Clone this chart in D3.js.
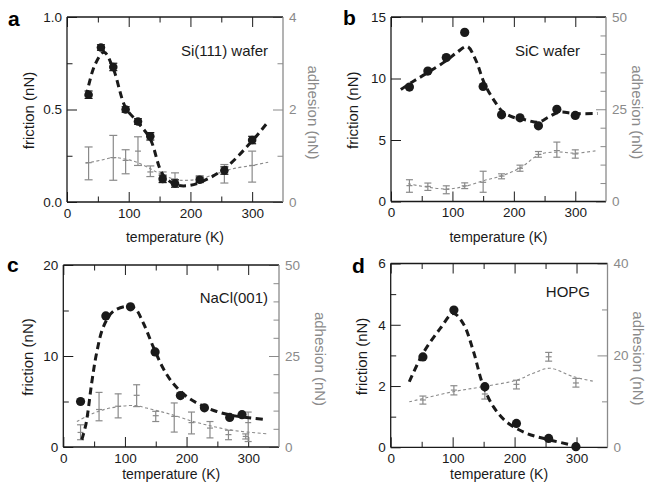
<!DOCTYPE html>
<html lang="en">
<head>
<meta charset="UTF-8">
<title>friction / adhesion vs temperature</title>
<script src="https://cdn.jsdelivr.net/npm/d3@7"></script>
<style>
  body { margin: 0; background: #fff; }
</style>
</head>
<body>
<script>
// values (temperature in K, forces in nN)
const xTicks = [0, 100, 200, 300];
const xMinor = [50, 150, 250];

// a: Si(111) wafer
const aFricT   = [35, 55, 75, 95, 115, 135, 155, 175, 215, 255, 300];
const aFric    = [0.58, 0.835, 0.73, 0.50, 0.435, 0.355, 0.125, 0.10, 0.12, 0.17, 0.335];
const aFricErr = [0.02, 0.015, 0.02, 0.015, 0.015, 0.02, 0.02, 0.02, 0.015, 0.02, 0.02];
const aAdhT    = [35, 75, 95, 115, 135, 155, 175, 215, 255, 300];
const aAdh     = [0.85, 0.96, 0.90, 1.10, 0.65, 0.55, 0.50, 0.50, 0.61, 0.79];
const aAdhLo   = [0.48, 0.47, 0.61, 0.79, 0.55, 0.43, 0.40, 0.44, 0.41, 0.43];
const aAdhHi   = [1.19, 1.44, 1.13, 1.41, 0.78, 0.65, 0.63, 0.57, 0.81, 1.10];
const aFricFitT = [31, 45, 60, 75, 95, 115, 135, 155, 175, 195, 215, 255, 300, 325];
const aFricFit  = [0.57, 0.74, 0.81, 0.72, 0.51, 0.43, 0.34, 0.15, 0.095, 0.088, 0.105, 0.18, 0.33, 0.43];
const aAdhFitT  = [30, 54, 75, 97, 115, 135, 155, 178, 197, 215, 242, 269, 300, 326];
const aAdhFit   = [0.84, 0.90, 0.96, 0.92, 0.85, 0.72, 0.58, 0.48, 0.47, 0.50, 0.61, 0.72, 0.79, 0.86];

// b: SiC wafer
const bFricT   = [30, 60, 90, 120, 150, 180, 210, 240, 270, 300];
const bFric    = [9.3, 10.6, 11.7, 13.75, 9.35, 7.05, 6.8, 6.15, 7.5, 7.0];
const bAdhT    = [30, 60, 90, 120, 150, 180, 210, 240, 270, 300];
const bAdh     = [4.3, 4.1, 3.3, 4.25, 5.2, 6.9, 9.0, 12.75, 13.8, 12.9];
const bAdhLo   = [2.5, 3.0, 2.1, 3.5, 2.5, 6.15, 8.2, 12.0, 12.0, 11.75];
const bAdhHi   = [5.9, 5.0, 4.25, 5.05, 8.2, 7.5, 9.85, 13.55, 16.1, 14.0];
const bFricFitT = [16, 34, 59, 90, 108, 124, 138, 152, 168, 182, 199, 218, 240, 256, 273, 300, 336];
const bFricFit  = [9.1, 9.7, 10.45, 11.45, 12.15, 12.6, 11.5, 9.6, 8.2, 7.3, 6.85, 6.65, 6.45, 6.85, 7.25, 7.15, 7.15];
const bAdhFitT  = [28, 59, 92, 119, 152, 182, 212, 242, 273, 300, 336];
const bAdhFit   = [4.8, 3.9, 3.4, 4.05, 5.7, 7.05, 9.3, 12.75, 13.4, 13.1, 13.8];

// c: NaCl(001)
const cFricT   = [28, 69, 109, 149, 190, 229, 270, 290];
const cFric    = [5.0, 14.4, 15.4, 10.45, 5.65, 4.3, 3.25, 3.55];
const cAdhT    = [28, 58, 89, 119, 150, 180, 208, 238, 268, 296, 300];
const cAdh     = [4.0, 10.3, 11.2, 14.2, 8.6, 8.4, 6.7, 5.2, 3.4, 2.9, 6.7];
const cAdhLo   = [2.0, 7.2, 8.0, 11.1, 7.0, 4.1, 3.6, 2.5, 2.0, 2.2, 1.5];
const cAdhHi   = [6.1, 15.0, 14.6, 17.1, 9.8, 12.1, 9.6, 7.0, 4.6, 3.6, 9.6];
const cFricFitT = [30, 37, 46, 54, 65, 81, 103, 116, 130, 146, 162, 178, 200, 222, 249, 276, 324];
const cFricFit  = [0.8, 2.6, 7.0, 10.3, 13.2, 14.9, 15.45, 15.25, 13.6, 11.0, 8.65, 7.0, 5.55, 4.65, 3.9, 3.45, 3.05];
const cAdhFitT  = [22, 49, 76, 116, 135, 173, 211, 243, 276, 330];
const cAdhFit   = [7.0, 9.3, 10.7, 11.4, 10.7, 9.05, 7.0, 5.65, 4.55, 3.65];

// d: HOPG
const dFricT   = [52, 102, 152, 203, 255, 299];
const dFric    = [2.95, 4.48, 1.98, 0.78, 0.29, 0.02];
const dAdhT    = [52, 102, 152, 203, 255, 299];
const dAdh     = [10.3, 12.45, 11.6, 13.7, 19.7, 14.0];
const dAdhLo   = [9.4, 11.4, 10.5, 12.7, 18.75, 13.1];
const dAdhHi   = [11.15, 13.4, 12.7, 14.6, 20.65, 15.0];
const dFricFitT = [30, 52, 80, 101, 117, 133, 149, 166, 187, 219, 257, 300];
const dFricFit  = [2.14, 3.06, 3.88, 4.37, 4.04, 3.17, 2.03, 1.32, 0.83, 0.46, 0.24, 0.04];
const dAdhFitT  = [30, 101, 149, 203, 230, 257, 295, 330];
const dAdhFit   = [9.9, 12.1, 13.2, 14.6, 16.1, 17.2, 15.35, 14.3];

const FONT = "'Liberation Sans', Arial, Helvetica, sans-serif";
const GRAY = "#8a8a8a";
const INK = "#1a1a1a";

const panels = [
  { letter: "a", name: "Si(111) wafer", left: 67, right: 283, top: 17, bottom: 202,
    yL: [0, 1], yLTicks: [0, 0.5, 1], yLMinor: [0.25, 0.75], yLFmt: d3.format(".1f"),
    yR: [0, 4], yRTicks: [0, 2, 4], yRMinor: [1, 3],
    fricT: aFricT, fric: aFric, fricErr: aFricErr, adhT: aAdhT, adh: aAdh, adhLo: aAdhLo, adhHi: aAdhHi,
    fricFitT: aFricFitT, fricFit: aFricFit, adhFitT: aAdhFitT, adhFit: aAdhFit,
    r: 4.3, cap: 4, letterXY: [8, 26], nameXY: [268, 56], titleY: 242, fricLabX: 28, adhLabX: 313 },
  { letter: "b", name: "SiC wafer", left: 391, right: 606, top: 17, bottom: 201.5,
    yL: [0, 15], yLTicks: [0, 5, 10, 15], yLMinor: [], yLFmt: d3.format("d"),
    yR: [0, 50], yRTicks: [0, 25, 50], yRMinor: [5, 10, 15, 20, 30, 35, 40, 45],
    fricT: bFricT, fric: bFric, fricErr: null, adhT: bAdhT, adh: bAdh, adhLo: bAdhLo, adhHi: bAdhHi,
    fricFitT: bFricFitT, fricFit: bFricFit, adhFitT: bAdhFitT, adhFit: bAdhFit,
    r: 4.6, cap: 3.5, letterXY: [343, 25], nameXY: [580, 56], titleY: 242, fricLabX: 352, adhLabX: 637.5 },
  { letter: "c", name: "NaCl(001)", left: 63.3, right: 279, top: 265, bottom: 447,
    yL: [0, 20], yLTicks: [0, 10, 20], yLMinor: [5, 15], yLFmt: d3.format("d"),
    yR: [0, 50], yRTicks: [0, 25, 50], yRMinor: [5, 10, 15, 20, 30, 35, 40, 45],
    fricT: cFricT, fric: cFric, fricErr: null, adhT: cAdhT, adh: cAdh, adhLo: cAdhLo, adhHi: cAdhHi,
    fricFitT: cFricFitT, fricFit: cFricFit, adhFitT: cAdhFitT, adhFit: cAdhFit,
    r: 4.6, cap: 3.5, letterXY: [7, 272], nameXY: [268, 303], titleY: 479, fricLabX: 27, adhLabX: 320 },
  { letter: "d", name: "HOPG", left: 390.7, right: 607.5, top: 263.5, bottom: 447.3,
    yL: [0, 6], yLTicks: [0, 2, 4, 6], yLMinor: [1, 3, 5], yLFmt: d3.format("d"),
    yR: [0, 40], yRTicks: [0, 20, 40], yRMinor: [10, 30],
    fricT: dFricT, fric: dFric, fricErr: null, adhT: dAdhT, adh: dAdh, adhLo: dAdhLo, adhHi: dAdhHi,
    fricFitT: dFricFitT, fricFit: dFricFit, adhFitT: dAdhFitT, adhFit: dAdhFit,
    r: 4.6, cap: 3.5, letterXY: [352, 273], nameXY: [590, 297], titleY: 479, fricLabX: 361.5, adhLabX: 638.5 }
];

const svg = d3.select("body").append("svg")
  .attr("width", 647).attr("height", 489)
  .style("font-family", FONT);

function addAxis(g, axis, transform, color, labelled) {
  const a = g.append("g").attr("transform", transform).call(axis);
  a.attr("font-size", 13.5).attr("font-family", FONT).attr("color", color);
  a.select(".domain").remove();
  if (!labelled) a.selectAll("text").remove();
  return a;
}

function drawPanel(p) {
  const x = d3.scaleLinear().domain([0, 350]).range([p.left, p.right]);
  const yL = d3.scaleLinear().domain(p.yL).range([p.bottom, p.top]);
  const yR = d3.scaleLinear().domain(p.yR).range([p.bottom, p.top]);
  const g = svg.append("g");

  // ticks, all pointing inward
  addAxis(g, d3.axisBottom(x).tickValues(xTicks).tickSizeInner(-10).tickSizeOuter(0).tickPadding(6),
    `translate(0,${p.bottom})`, INK, true);
  addAxis(g, d3.axisBottom(x).tickValues(xMinor).tickSizeInner(-5.5).tickSizeOuter(0),
    `translate(0,${p.bottom})`, INK, false);
  addAxis(g, d3.axisTop(x).tickValues(xTicks).tickSizeInner(-10).tickSizeOuter(0),
    `translate(0,${p.top})`, INK, false);
  addAxis(g, d3.axisTop(x).tickValues(xMinor).tickSizeInner(-5.5).tickSizeOuter(0),
    `translate(0,${p.top})`, INK, false);
  addAxis(g, d3.axisLeft(yL).tickValues(p.yLTicks).tickFormat(p.yLFmt).tickSizeInner(-10).tickSizeOuter(0).tickPadding(5),
    `translate(${p.left},0)`, INK, true);
  addAxis(g, d3.axisLeft(yL).tickValues(p.yLMinor).tickSizeInner(-5.5).tickSizeOuter(0),
    `translate(${p.left},0)`, INK, false);
  addAxis(g, d3.axisRight(yR).tickValues(p.yRTicks).tickFormat(d3.format("d")).tickSizeInner(-10).tickSizeOuter(0).tickPadding(6),
    `translate(${p.right},0)`, GRAY, true);
  addAxis(g, d3.axisRight(yR).tickValues(p.yRMinor).tickSizeInner(-5.5).tickSizeOuter(0),
    `translate(${p.right},0)`, GRAY, false);

  // frame: black on three sides, grey on the adhesion side
  const spine = (x1, y1, x2, y2, c) => g.append("line")
    .attr("x1", x1).attr("y1", y1).attr("x2", x2).attr("y2", y2)
    .attr("stroke", c).attr("stroke-width", 1.3);
  spine(p.left, p.top, p.left, p.bottom, INK);
  spine(p.left, p.bottom, p.right, p.bottom, INK);
  spine(p.left, p.top, p.right, p.top, INK);
  spine(p.right, p.top, p.right, p.bottom, GRAY);

  // adhesion: grey error bars + dotted fit
  const adhRows = p.adhT.map((t, i) => ({ t, v: p.adh[i], lo: p.adhLo[i], hi: p.adhHi[i] }));
  const eb = g.append("g").attr("stroke", GRAY).attr("stroke-width", 1.2);
  eb.selectAll(".v").data(adhRows).join("line")
    .attr("x1", d => x(d.t)).attr("x2", d => x(d.t))
    .attr("y1", d => yR(d.lo)).attr("y2", d => yR(d.hi));
  eb.selectAll(".hi").data(adhRows).join("line")
    .attr("x1", d => x(d.t) - p.cap).attr("x2", d => x(d.t) + p.cap)
    .attr("y1", d => yR(d.hi)).attr("y2", d => yR(d.hi));
  eb.selectAll(".lo").data(adhRows).join("line")
    .attr("x1", d => x(d.t) - p.cap).attr("x2", d => x(d.t) + p.cap)
    .attr("y1", d => yR(d.lo)).attr("y2", d => yR(d.lo));
  eb.selectAll(".mid").data(adhRows).join("line")
    .attr("x1", d => x(d.t) - 3).attr("x2", d => x(d.t) + 3)
    .attr("y1", d => yR(d.v)).attr("y2", d => yR(d.v));

  g.append("path")
    .datum(d3.zip(p.adhFitT, p.adhFit))
    .attr("fill", "none").attr("stroke", GRAY).attr("stroke-width", 1.1)
    .attr("stroke-dasharray", "3,2.5")
    .attr("d", d3.line().x(d => x(d[0])).y(d => yR(d[1])).curve(d3.curveCatmullRom));

  // friction: dashed fit + filled circles
  g.append("path")
    .datum(d3.zip(p.fricFitT, p.fricFit))
    .attr("fill", "none").attr("stroke", INK).attr("stroke-width", 3)
    .attr("stroke-dasharray", "7,4.5")
    .attr("d", d3.line().x(d => x(d[0])).y(d => yL(d[1])).curve(d3.curveCatmullRom));

  const fricRows = p.fricT.map((t, i) => ({ t, v: p.fric[i], e: p.fricErr ? p.fricErr[i] : 0 }));
  if (p.fricErr) {
    const fe = g.append("g").attr("stroke", INK).attr("stroke-width", 1.2);
    fe.selectAll("line").data(fricRows).join("line")
      .attr("x1", d => x(d.t)).attr("x2", d => x(d.t))
      .attr("y1", d => yL(d.v - d.e)).attr("y2", d => yL(d.v + d.e));
    fe.selectAll(".cap").data(fricRows.flatMap(d => [[d.t, d.v - d.e], [d.t, d.v + d.e]]))
      .join("line").attr("class", "cap")
      .attr("x1", d => x(d[0]) - 4).attr("x2", d => x(d[0]) + 4)
      .attr("y1", d => yL(d[1])).attr("y2", d => yL(d[1]));
  }
  g.append("g").selectAll("circle").data(fricRows).join("circle")
    .attr("cx", d => x(d.t)).attr("cy", d => yL(d.v))
    .attr("r", p.r).attr("fill", INK);

  // texts
  g.append("text").attr("x", p.letterXY[0]).attr("y", p.letterXY[1])
    .attr("font-size", 21).attr("font-weight", "bold").attr("fill", "#000").text(p.letter);
  g.append("text").attr("x", p.nameXY[0]).attr("y", p.nameXY[1]).attr("fill", INK)
    .attr("font-size", 15).attr("text-anchor", "end").text(p.name);
  g.append("text").attr("x", (p.left + p.right) / 2).attr("y", p.titleY).attr("fill", INK)
    .attr("font-size", 14).attr("text-anchor", "middle").text("temperature (K)");
  const midY = (p.top + p.bottom) / 2;
  g.append("text")
    .attr("transform", `translate(${p.fricLabX},${midY + 1}) rotate(-90)`)
    .attr("font-size", 15).attr("text-anchor", "middle").attr("dominant-baseline", "central")
    .attr("fill", INK)
    .text("friction (nN)");
  g.append("text")
    .attr("transform", `translate(${p.adhLabX},${midY + 3}) rotate(90)`)
    .attr("font-size", 15).attr("text-anchor", "middle").attr("dominant-baseline", "central")
    .attr("fill", GRAY)
    .text("adhesion (nN)");
}

panels.forEach(drawPanel);
</script>
</body>
</html>
